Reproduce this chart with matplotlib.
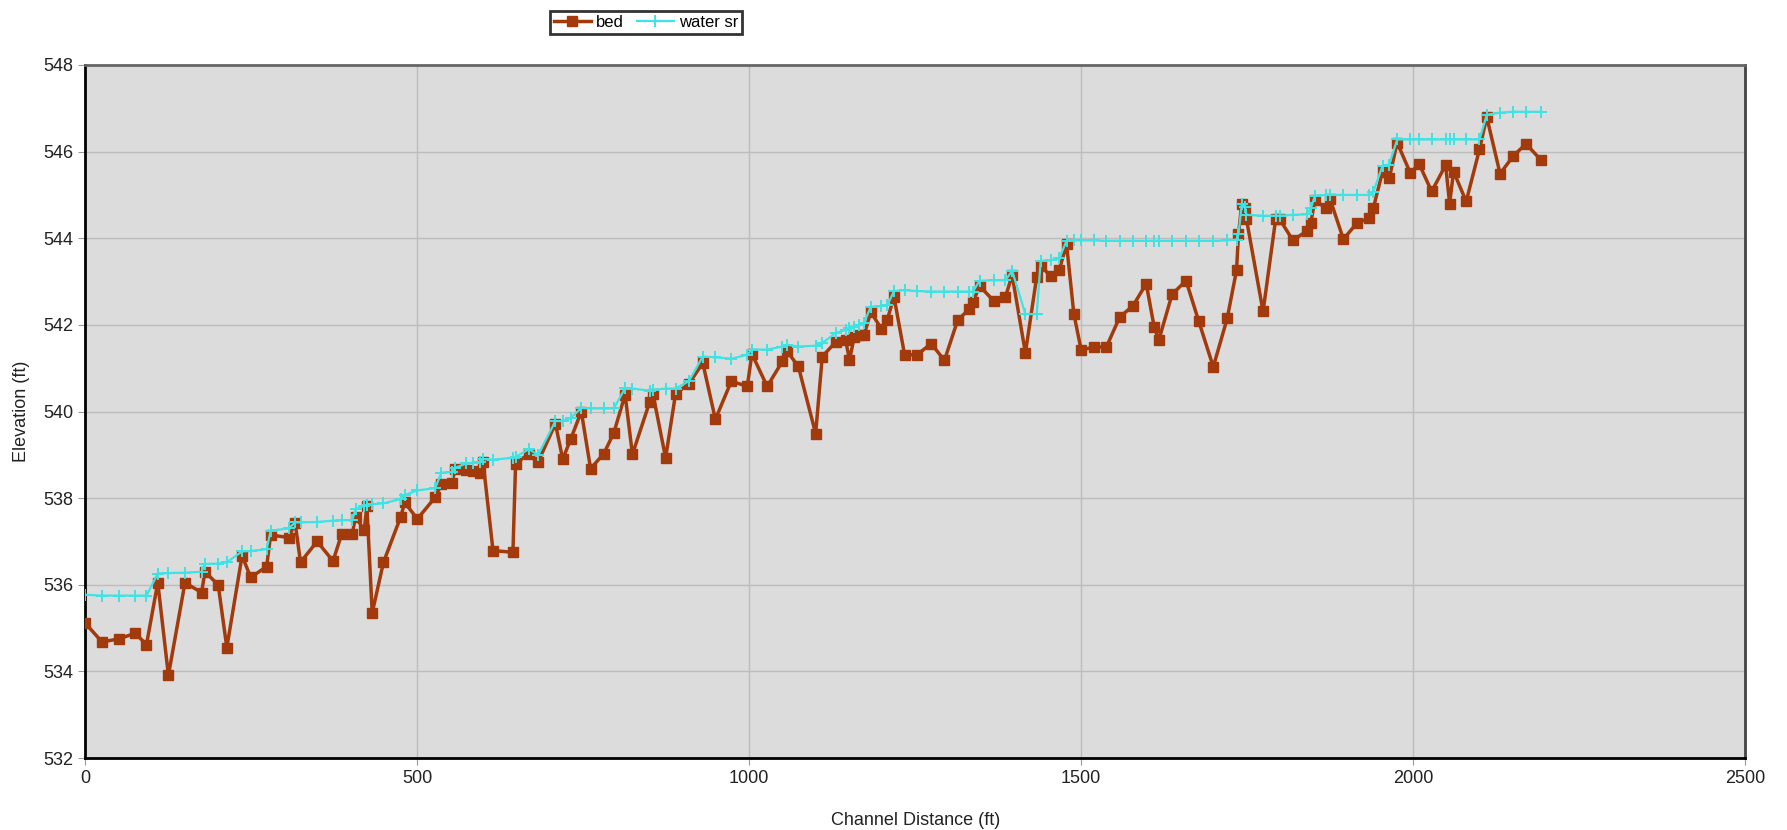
import matplotlib.pyplot as plt
import numpy as np

# channel distance (ft) of each surveyed station
distance = [
    0, 25, 50, 75, 92, 109, 125, 150, 175, 180, 200, 213, 236, 249, 273, 279,
    306, 316, 324, 349, 373, 386, 402, 407, 420, 424, 432, 449, 475, 481, 500,
    527, 536, 552, 557, 574, 584, 595, 599, 614, 644, 648, 668, 682, 708, 719,
    731, 747, 761, 781, 796, 813, 824, 850, 855, 874, 889, 909, 930, 949, 973,
    997, 1004, 1027, 1050, 1057, 1074, 1100, 1110, 1130, 1145, 1151, 1158,
    1165, 1173, 1183, 1199, 1208, 1218, 1234, 1253, 1274, 1294, 1314, 1331,
    1337, 1347, 1369, 1386, 1396, 1416, 1433, 1439, 1454, 1467, 1478, 1489,
    1500, 1520, 1538, 1558, 1578, 1598, 1610, 1617, 1637, 1658, 1677, 1699,
    1720, 1734, 1737, 1742, 1747, 1749, 1774, 1793, 1799, 1819, 1840, 1846,
    1852, 1869, 1875, 1895, 1916, 1934, 1940, 1954, 1964, 1976, 1996, 2009,
    2028, 2049, 2055, 2061, 2080, 2100, 2111, 2131, 2151, 2170, 2193,
]

bed = [
    535.11, 534.68, 534.75, 534.88, 534.62, 536.05, 533.91, 536.05, 535.82,
    536.30, 536.00, 534.55, 536.67, 536.17, 536.42, 537.15, 537.09, 537.42,
    536.52, 537.00, 536.55, 537.17, 537.18, 537.57, 537.26, 537.82, 535.35,
    536.52, 537.57, 537.90, 537.52, 538.02, 538.32, 538.35, 538.67, 538.65,
    538.62, 538.57, 538.84, 536.79, 536.75, 538.79, 539.03, 538.84, 539.72,
    538.90, 539.36, 540.00, 538.68, 539.03, 539.51, 540.39, 539.01, 540.22,
    540.40, 538.93, 540.41, 540.64, 541.12, 539.82, 540.70, 540.58, 541.33,
    540.58, 541.16, 541.39, 541.04, 539.49, 541.27, 541.60, 541.66, 541.19,
    541.71, 541.76, 541.76, 542.30, 541.91, 542.12, 542.65, 541.31, 541.31,
    541.57, 541.18, 542.11, 542.36, 542.52, 542.90, 542.54, 542.65, 543.15,
    541.35, 543.11, 543.36, 543.13, 543.27, 543.86, 542.25, 541.42, 541.49,
    541.49, 542.18, 542.44, 542.95, 541.95, 541.65, 542.71, 543.02, 542.09,
    541.03, 542.15, 543.26, 544.09, 544.80, 544.70, 544.44, 542.31, 544.44,
    544.44, 543.95, 544.17, 544.36, 544.88, 544.69, 544.90, 543.98, 544.36,
    544.46, 544.69, 545.54, 545.38, 546.21, 545.50, 545.72, 545.08, 545.69,
    544.80, 545.54, 544.85, 546.05, 546.80, 545.49, 545.90, 546.18, 545.80,
]

water_sr = [
    535.77, 535.75, 535.75, 535.75, 535.75, 536.26, 536.27, 536.28, 536.30,
    536.48, 536.49, 536.52, 536.77, 536.78, 536.82, 537.25, 537.30, 537.44,
    537.44, 537.45, 537.48, 537.49, 537.49, 537.75, 537.82, 537.85, 537.86,
    537.88, 537.98, 538.07, 538.18, 538.23, 538.59, 538.60, 538.70, 538.80,
    538.82, 538.84, 538.90, 538.89, 538.93, 538.95, 539.13, 539.00, 539.78,
    539.78, 539.85, 540.08, 540.07, 540.07, 540.07, 540.54, 540.53, 540.48,
    540.50, 540.53, 540.53, 540.70, 541.27, 541.25, 541.22, 541.31, 541.43,
    541.43, 541.50, 541.54, 541.50, 541.52, 541.58, 541.81, 541.88, 541.92,
    541.96, 542.00, 542.05, 542.42, 542.43, 542.45, 542.78, 542.80, 542.78,
    542.77, 542.77, 542.77, 542.77, 542.77, 543.02, 543.03, 543.03, 543.25,
    542.25, 542.25, 543.48, 543.49, 543.54, 543.94, 543.95, 543.95, 543.95,
    543.94, 543.94, 543.94, 543.94, 543.94, 543.94, 543.94, 543.94, 543.94,
    543.94, 543.95, 543.97, 544.09, 544.80, 544.72, 544.54, 544.52, 544.52,
    544.52, 544.54, 544.55, 544.69, 544.98, 545.00, 545.00, 545.00, 545.00,
    545.00, 545.07, 545.67, 545.70, 546.28, 546.28, 546.28, 546.28, 546.28,
    546.28, 546.28, 546.28, 546.28, 546.85, 546.90, 546.92, 546.92, 546.92,
]

x_ticks = np.arange(0, 2501, 500)
y_ticks = np.arange(532, 549, 2)

plt.rcParams["font.family"] = ["Liberation Sans", "DejaVu Sans"]

fig = plt.figure(figsize=(17.87, 8.30), dpi=100)
ax = fig.add_axes([0.0478, 0.0867, 0.9287, 0.835])
ax.set_facecolor("#dcdcdc")

ax.plot(distance, bed, color="#a33a0c", linewidth=2.5, marker="s",
        markersize=6.5, label="bed", zorder=3)
ax.plot(distance, water_sr, color="#3fe3e3", linewidth=1.6, marker="+",
        markersize=8, markeredgewidth=1.4, label="water sr", zorder=4)

ax.set_xlim(0, 2500)
ax.set_ylim(532, 548)
ax.set_xticks(x_ticks)
ax.set_yticks(y_ticks)
ax.tick_params(axis="both", labelsize=13, labelcolor="#222222",
               color="#999999", length=5)
ax.grid(True, color="#bcbcbc", linewidth=1.0)
ax.set_axisbelow(True)

for side in ("left", "bottom"):
    ax.spines[side].set_color("black")
    ax.spines[side].set_linewidth(2)
ax.spines["top"].set_color("#666666")
ax.spines["top"].set_linewidth(2)
ax.spines["right"].set_color("#444444")
ax.spines["right"].set_linewidth(2)

ax.set_xlabel("Channel Distance (ft)", fontsize=13, labelpad=18,
              color="#222222")
ax.set_ylabel("Elevation (ft)", fontsize=13, labelpad=10, color="#222222")

leg = fig.legend(loc="center", bbox_to_anchor=(0.3615, 0.973), ncol=2,
                 fontsize=12, frameon=True, fancybox=False, handlelength=2.2,
                 handletextpad=0.3, columnspacing=0.8, borderpad=0.25)
leg.get_frame().set_edgecolor("black")
leg.get_frame().set_linewidth(2)

fig.savefig("out.png", dpi=100)
